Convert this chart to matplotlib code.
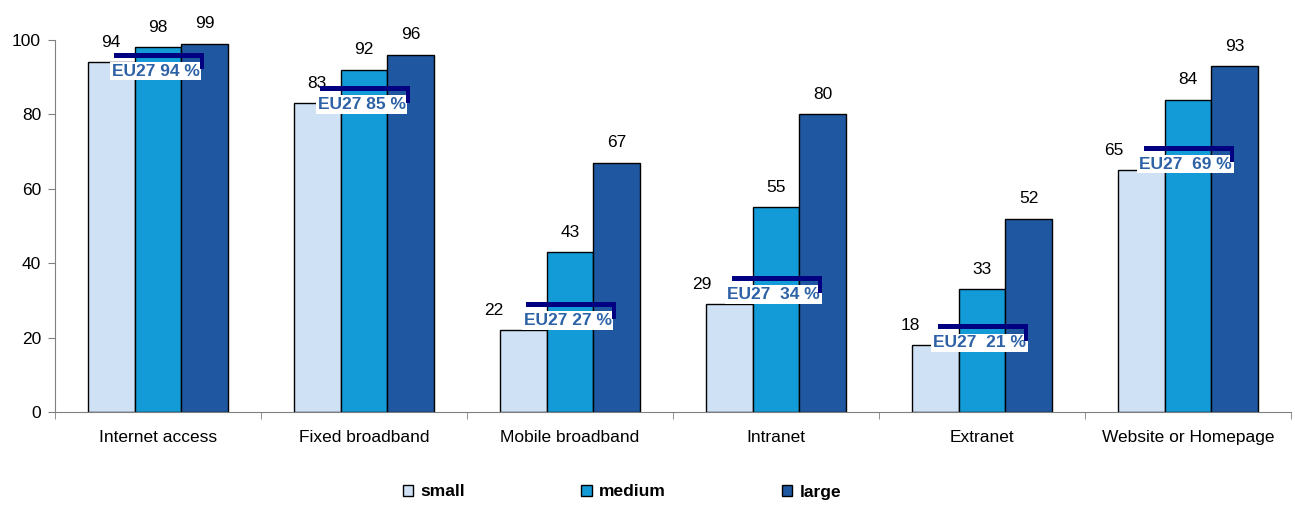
import numpy as np
import matplotlib
matplotlib.use('Agg')
from matplotlib import pyplot as plt
from matplotlib.patches import Rectangle
from matplotlib.ticker import FixedLocator

categories = ['Internet access', 'Fixed broadband', 'Mobile broadband',
              'Intranet', 'Extranet', 'Website or Homepage']
small = [94, 83, 22, 29, 18, 65]
medium = [98, 92, 43, 55, 33, 84]
large = [99, 96, 67, 80, 52, 93]
eu27 = [94, 85, 27, 34, 21, 69]
eu27_labels = ['EU27 94 %', 'EU27 85 %', 'EU27 27 %',
               'EU27  34 %', 'EU27  21 %', 'EU27  69 %']
series_names = ['small', 'medium', 'large']
colors = ['#CFE2F5', '#139BD8', '#1F58A0']

# small-firm labels pushed left where the EU27 box would hide them (points)
small_label_dx = [0, 0, -21, -19.5, -18, -19.5]

plt.rcParams['font.family'] = ['Liberation Sans', 'DejaVu Sans']

fig = plt.figure(figsize=(12.95, 5.05), dpi=100)
ax = fig.add_axes([55/1295, 93/505, (1291-55)/1295, (465-93)/505])

x = np.arange(len(categories))
w = 0.227
handles = []
for i, (vals, name, col) in enumerate(zip([small, medium, large], series_names, colors)):
    xs = x + (i - 1)*w
    b = ax.bar(xs, vals, width=w, color=col, edgecolor='black', linewidth=1, label=name, zorder=2)
    handles.append(b)
    for k, (xi, v) in enumerate(zip(xs, vals)):
        dx = small_label_dx[k] if i == 0 else 0
        ax.annotate(str(v), (xi, v), xytext=(dx, 9), textcoords='offset points',
                    ha='center', va='bottom', fontsize=12.5, color='black', zorder=3)

# EU27 markers: navy bar with white label box
for xi, v, lab in zip(x, eu27, eu27_labels):
    top = v + 2.6
    ax.add_patch(Rectangle((xi - 0.214, top - 1.4), 0.43, 1.4, facecolor='#000080',
                           edgecolor='none', zorder=7))
    ax.add_patch(Rectangle((xi + 0.205, top - 4.5), 0.016, 4.5, facecolor='#000080',
                           edgecolor='none', zorder=7))
    ax.text(xi - 0.012, top - 5.0, lab, ha='center', va='center', fontsize=12.5,
            fontweight='bold', color='#2E62A6', zorder=6,
            bbox=dict(boxstyle='square,pad=0.1', facecolor='white', edgecolor='none'))

ax.set_xlim(-0.5, len(categories) - 0.5)
ax.set_ylim(0, 100)
ax.set_yticks([0, 20, 40, 60, 80, 100])
ax.set_xticks(x)
ax.set_xticklabels(categories, fontsize=12.5)
ax.xaxis.set_minor_locator(FixedLocator(np.arange(-0.5, len(categories), 1.0)))
ax.tick_params(axis='x', which='major', length=0, pad=13)
ax.tick_params(axis='x', which='minor', length=5, color='#808080')
ax.tick_params(axis='y', length=5, color='#808080', labelsize=12.5, pad=5)
for s in ['top', 'right']:
    ax.spines[s].set_visible(False)
for s in ['left', 'bottom']:
    ax.spines[s].set_color('#808080')

fig.legend(handles=handles, loc='center', bbox_to_anchor=(622/1295, 1 - 492/505),
           ncol=3, frameon=False, handlelength=0.6, handleheight=0.6,
           handletextpad=0.4, columnspacing=6.7,
           prop={'weight': 'bold', 'size': 12.5})

fig.savefig('out.png', dpi=100)
